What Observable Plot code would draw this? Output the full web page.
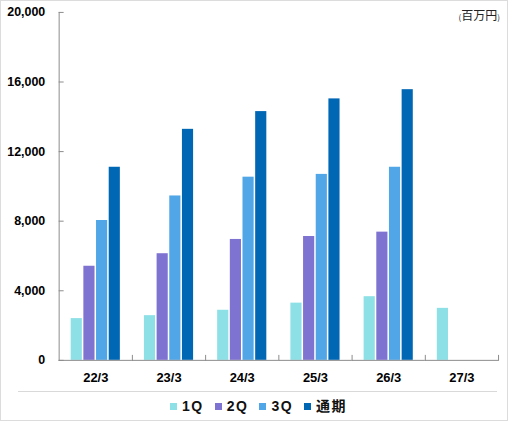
<!DOCTYPE html>
<html><head><meta charset="utf-8">
<script src="https://cdn.jsdelivr.net/npm/d3@7"></script>
<script src="https://cdn.jsdelivr.net/npm/@observablehq/plot@0.6"></script>
<style>
body{margin:0;background:#fff;}
#wrap{position:relative;width:508px;height:421px;box-sizing:border-box;border:1px solid #dcdcdc;background:#fff;font-family:"Liberation Sans",Arial,"Noto Sans CJK JP",sans-serif;overflow:hidden;}
#chart{position:absolute;left:-1px;top:-1px;}
#unit{position:absolute;right:7px;top:7px;font-family:"Noto Sans CJK JP",sans-serif;font-size:12px;line-height:14px;color:#222;}
#unit small{font-size:8px;}
#rule{position:absolute;left:17px;top:390px;width:479px;border-top:1px solid #d9d9d9;}
#legend{position:absolute;left:169px;top:396px;display:flex;align-items:center;font-weight:bold;font-size:14px;line-height:18px;color:#111;}
.item{display:flex;align-items:center;margin-right:11px;}
.sw{width:7px;height:7px;margin-right:5px;}
.lab{letter-spacing:1.5px;font-family:"Liberation Sans",Arial,"Noto Sans CJK JP",sans-serif;}
</style>
</head><body>
<div id="wrap">
  <div id="chart"></div>
  <div id="unit"><small>(</small>百万円<small>)</small></div>
  <div id="rule"></div>
  <div id="legend"></div>
</div>
<script>
const categories = ["22/3","23/3","24/3","25/3","26/3","27/3"];
const series = ["1Q","2Q","3Q","通期"];
const colors = ["#8de0e6","#7f73d1","#50a6e6","#0067b5"];
const q1 = [2400, 2570, 2880, 3290, 3660, 2990];
const q2 = [5410, 6130, 6950, 7120, 7370, null];
const q3 = [8040, 9450, 10530, 10690, 11100, null];
const fy = [11100, 13280, 14300, 15030, 15560, null];
const yTicks = [0, 4000, 8000, 12000, 16000, 20000];

const valuesBySeries = [q1, q2, q3, fy];
const rows = [];
categories.forEach((c, i) => {
  series.forEach((s, j) => {
    const v = valuesBySeries[j][i];
    if (v != null) rows.push({cat: c, series: s, value: v});
  });
});

const axisColor = "#8c8c8c";
const plot = Plot.plot({
  width: 510,
  height: 392,
  marginLeft: 59,
  marginRight: 9,
  marginTop: 12,
  marginBottom: 30,
  style: {fontFamily: '"Liberation Sans", Arial, sans-serif', fontWeight: "bold", color: "#000", background: "transparent"},
  fx: {domain: categories, padding: 0, round: false, label: null},
  x: {domain: series, paddingInner: 0.12, paddingOuter: 0.95, round: false, axis: null},
  y: {domain: [0, 20000], label: null},
  color: {domain: series, range: colors},
  marks: [
    Plot.barY(rows, {fx: "cat", x: "series", y: "value", fill: "series"}),
    Plot.ruleY([0], {stroke: axisColor}),
    Plot.frame({anchor: "right", stroke: axisColor, insetTop: 345}),
    Plot.frame({anchor: "left", stroke: axisColor, fx: () => categories[0]}),
    Plot.axisY({ticks: yTicks, tickFormat: d3.format(","), tickSize: -5, tickPadding: 19, fontSize: 12.5, stroke: axisColor, label: null}),
    Plot.axisFx({anchor: "bottom", tickSize: 0, tickPadding: 13, fontSize: 13, label: null})
  ]
});
document.getElementById("chart").appendChild(plot);

const legend = document.getElementById("legend");
series.forEach((s, j) => {
  const item = document.createElement("div");
  item.className = "item";
  const sw = document.createElement("div");
  sw.className = "sw";
  sw.style.background = colors[j];
  const lab = document.createElement("span");
  lab.className = "lab";
  lab.textContent = s;
  item.appendChild(sw);
  item.appendChild(lab);
  legend.appendChild(item);
});
</script>
</body></html>
